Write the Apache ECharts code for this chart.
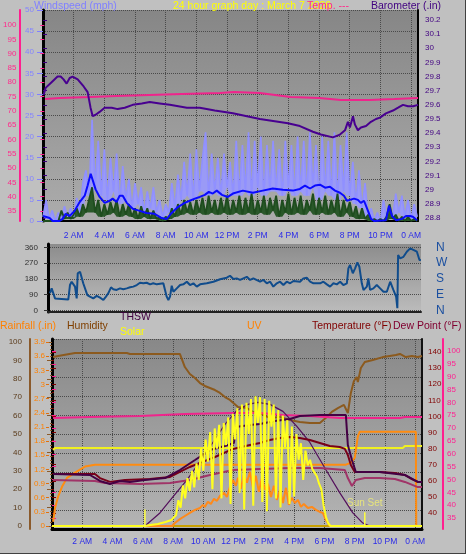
<!DOCTYPE html>
<html><head><meta charset="utf-8">
<script src="https://cdn.jsdelivr.net/npm/echarts@6/dist/echarts.min.js"></script>
<style>html,body{margin:0;padding:0;background:#c0c0c0;}#c{width:466px;height:554px;}</style>
</head><body><div id="c"></div><script>
// ---------- tick labels ----------
const timeLabels = ['', '2 AM', '4 AM', '6 AM', '8 AM', '10 AM', '12 PM', '2 PM', '4 PM', '6 PM', '8 PM', '10 PM', '0 AM'];
const dirLabels = ['N', 'E', 'S', 'W', 'N'];

// ---------- top chart ----------
const barometer = [[0.04,29.67],[0.17,29.72],[0.56,29.76],[0.95,29.80],[1.15,29.80],[1.34,29.78],[1.54,29.75],[1.74,29.79],[1.93,29.80],[2.26,29.78],[2.65,29.73],[2.91,29.69],[3.1,29.58],[3.24,29.52],[3.43,29.53],[3.69,29.55],[4.02,29.58],[4.48,29.58],[4.87,29.57],[5.33,29.58],[5.85,29.60],[6.44,29.61],[6.96,29.62],[7.61,29.61],[8.27,29.60],[9.38,29.58],[10.22,29.58],[11.2,29.56],[12.38,29.54],[14.14,29.50],[15.97,29.47],[16.75,29.45],[17.6,29.41],[18.12,29.39],[18.9,29.37],[19.36,29.39],[19.69,29.42],[19.88,29.48],[20.01,29.44],[20.21,29.52],[20.34,29.46],[20.53,29.42],[20.73,29.44],[21.06,29.45],[21.38,29.48],[21.71,29.50],[21.97,29.51],[22.36,29.54],[22.82,29.56],[23.15,29.58],[23.47,29.60],[23.8,29.59],[24.13,29.59],[24.45,29.60]];
const tempTop = [[0.05,74.1],[1.0,74.5],[3.0,74.8],[4.7,75.2],[9.0,75.9],[11.5,76.2],[12.4,76.6],[14.1,76.2],[16.1,74.8],[18.0,74.5],[19.4,73.8],[21.3,73.8],[22.9,74.1],[24.45,74.5]];
const gustStep = 0.2;
const gust = [1,5,0.5,2.5,0,2,0.5,3.5,1,3,1,5.5,2,9,12,6,24,8,19,6,17,5,15,7,16,4,13,5,10,3,9,4,8,2,7,3,8,2,5,1,4,2,9,3,11,5,14,6,16,5,17,7,15,21,6,16,7,15,6,16,8,14,6,19,6,18,7,21,6,19,8,20,6,18,7,19,7,17,6,19,8,18,6,20,7,19,6,21,8,18,5,20,7,19,6,21,5,18,7,21,6,14,4,12,3,9,1,3,0,2,0,5,1,4,1,6.5,2,6,1,5,0.5,4,1];
const windLow = [0,0,0,0,0,0,2.5,0.5,2,0.5,1.5,3,1,4,2,5,8,2,5,1,4,1.5,4.5,2,5,1,4,1.5,4,1,3,0.5,3.5,1,3,0.5,2.5,0.5,1,0,1,0.5,3,1,4,1.5,5,2,4.5,1.5,5,2,5.5,1.5,6,2,5,1.5,5.5,2,6,1.5,5,2,6,1.5,5.5,2,6.5,1.5,5,2,6,1.5,5.5,2.5,6,1,5,2,6.5,1.5,5.5,2,6,1.5,5,2.5,6.5,1.5,5.5,2,6,1.5,5,2,6.5,1,5,2,4.5,1,3.5,0.5,3,0.5,1.5,0,0.5,0,0.5,0,1,4,0.5,1.5,0,1,0,1,0,0.5,0];
const windAvg = [[0,1.2],[0.43,0.7],[0.63,0],[1.08,0],[1.28,0.5],[1.48,1.7],[1.74,1.2],[2.06,2.4],[2.39,4.5],[2.72,6],[2.91,8.4],[3.11,11.2],[3.24,10.8],[3.43,7.5],[3.69,5.7],[4.02,4.3],[4.35,4.8],[4.54,5.3],[4.8,4.5],[5.0,6],[5.2,6],[5.46,4.3],[5.85,2.9],[6.31,2.4],[6.76,1.9],[7.28,1.7],[7.74,0.7],[8.07,0.5],[8.39,1.9],[8.79,3.3],[9.24,4.3],[9.57,4.8],[9.9,5.3],[10.22,5.7],[10.55,6.2],[10.81,6.9],[11.07,6.5],[11.33,7.2],[11.66,6.2],[12.05,5.7],[12.38,6.5],[13.03,7.2],[13.68,6.7],[14.33,7.2],[14.98,7.7],[15.64,7.4],[16.29,7.2],[16.75,7.6],[17.08,8.4],[17.41,7.7],[17.73,8.4],[18.06,8.6],[18.39,7.9],[18.71,8.1],[19.04,7.2],[19.36,6.7],[19.62,6],[19.82,4.8],[20.0,5.0],[20.28,5.3],[20.53,5.0],[20.72,4.3],[20.93,4.8],[21.19,2.4],[21.39,0.5],[21.58,0],[22.36,0.2],[22.56,3.6],[22.75,1.2],[23.02,0.2],[23.41,0.5],[23.67,1.2],[23.93,1.2],[24.12,1.0],[24.39,0.2]];

// ---------- middle chart ----------
const windDir = [[0.13,98],[0.24,126],[0.35,126],[0.46,69],[0.57,62],[1.33,62],[1.44,145],[1.55,164],[1.77,136],[1.88,69],[1.95,212],[2.1,221],[2.21,221],[2.31,155],[2.43,145],[2.58,88],[2.75,79],[2.97,69],[3.19,83],[3.41,73],[3.63,60],[3.8,79],[3.95,98],[4.13,132],[4.28,121],[4.5,117],[4.72,126],[4.94,121],[5.16,126],[5.38,132],[5.59,136],[5.82,145],[6.03,158],[6.25,155],[6.47,158],[6.69,149],[6.9,155],[7.13,149],[7.56,155],[7.67,149],[7.78,79],[7.89,60],[8.0,79],[8.11,141],[8.22,107],[8.44,126],[8.66,145],[8.87,149],[9.1,164],[9.31,145],[9.53,155],[9.75,136],[9.97,149],[10.41,155],[10.84,164],[11.28,178],[11.72,187],[11.93,198],[12.15,179],[12.37,183],[12.59,174],[12.81,183],[13.03,192],[13.25,174],[13.46,183],[13.9,164],[14.12,174],[14.34,155],[14.56,164],[14.77,136],[15.0,155],[15.21,164],[15.43,145],[15.65,164],[15.87,155],[16.09,168],[16.52,164],[16.74,183],[16.96,187],[17.18,164],[17.4,155],[17.84,155],[18.05,164],[18.28,149],[18.49,136],[18.71,155],[18.93,149],[19.15,164],[19.36,145],[19.59,155],[19.69,240],[19.8,259],[19.98,212],[20.13,240],[20.28,274],[20.41,249],[20.57,155],[20.68,117],[20.9,136],[21.0,183],[21.11,117],[21.33,126],[21.55,145],[21.77,126],[21.99,107],[22.21,107],[22.43,164],[22.54,174],[22.64,117],[22.82,79],[22.9,13],[22.95,316],[23.08,297],[23.3,306],[23.52,335],[23.74,354],[23.95,345],[24.07,354],[24.18,335],[24.35,288],[24.44,288]];

// ---------- bottom chart ----------
const humidity = [[0.07,91.8],[0.4,92.4],[1.52,94],[4.95,94],[5.15,93.5],[8.45,93.5],[8.78,86.4],[9.11,82.6],[9.45,80.4],[9.78,77.7],[10.1,76.1],[10.44,75],[10.77,73.9],[11.1,72.3],[11.43,70.1],[11.76,68.5],[12.29,64.7],[12.88,64.1],[13.28,62],[13.74,61.4],[14.4,58.7],[15.06,59.2],[15.72,57.6],[16.38,56.5],[17.04,56],[17.7,56],[18.16,59.2],[18.49,62],[18.89,64.1],[19.29,65.8],[19.42,66.3],[19.55,61.4],[19.75,72.3],[19.95,78.8],[20.14,81],[20.21,78.3],[20.41,85.9],[20.67,89.1],[21.2,90.2],[21.86,91.8],[22.32,92.4],[22.72,92.9],[22.99,93.5],[23.38,91.8],[23.78,92.4],[24.17,91.8],[24.45,92.4]];
const tempIndoor = [[0.07,73.9],[2.5,74.3],[5.8,74.7],[8.78,75.5],[11.96,75.9],[13.74,75.9],[15.26,75.1],[17.04,74.7],[19.02,73.9],[22.99,73.9],[23.32,74.3],[24.45,74.3]];
const humIndoor = [[0.07,41.3],[0.2,42.4],[23.18,42.4],[23.32,43.5],[24.45,43.5]];
const rain = [[0.07,0.09],[0.2,0.38],[0.4,0.62],[0.66,0.83],[0.99,1.02],[1.52,1.13],[2.18,1.26],[2.84,1.3],[19.42,1.3],[19.75,1.34],[20.01,1.45],[20.21,1.9],[20.34,2.0],[24.04,2.0],[24.07,0],[24.45,0]];
const baseline = [[0,0],[24.45,0]];
const uv = [[0,0],[7.93,0],[8.12,0.26],[8.45,0.6],[8.78,0.87],[9.11,1.14],[9.45,1.4],[9.78,1.57],[9.97,1.84],[10.1,1.66],[10.3,2.1],[10.5,1.92],[10.7,2.36],[10.9,2.19],[11.1,2.62],[11.36,2.88],[11.56,2.53],[11.76,3.41],[11.96,4.0],[12.15,3.5],[12.29,4.2],[12.48,3.23],[12.68,4.54],[12.88,3.76],[13.08,4.72],[13.28,3.32],[13.47,4.37],[13.67,2.97],[13.87,4.2],[14.07,3.15],[14.27,3.67],[14.47,2.53],[14.66,3.5],[14.86,2.27],[15.06,3.15],[15.26,2.0],[15.46,3.32],[15.65,1.84],[15.85,2.45],[16.05,2.0],[16.25,2.27],[16.45,1.66],[16.64,1.92],[16.91,1.57],[17.17,1.66],[17.44,1.4],[17.7,1.22],[17.9,1.14],[18.1,0.52],[18.36,0],[24.45,0]];
const solar = [[0,0],[6.14,0],[6.5,5],[7.0,11],[7.5,22],[7.9,33],[8.2,60],[8.35,140],[8.5,100],[8.65,220],[8.8,150],[8.95,260],[9.1,190],[9.25,300],[9.4,210],[9.55,340],[9.7,250],[9.85,420],[10.0,300],[10.15,470],[10.3,350],[10.45,510],[10.6,200],[10.75,530],[10.9,420],[11.05,550],[11.2,150],[11.35,560],[11.5,440],[11.65,590],[11.8,120],[11.95,610],[12.1,470],[12.25,640],[12.4,180],[12.55,660],[12.7,90],[12.85,670],[13.0,500],[13.15,690],[13.3,110],[13.45,705],[13.6,560],[13.75,700],[13.9,130],[14.05,690],[14.2,80],[14.35,680],[14.5,540],[14.65,660],[14.8,150],[14.95,630],[15.1,100],[15.25,600],[15.4,430],[15.55,575],[15.7,120],[15.85,540],[16.0,160],[16.15,500],[16.3,360],[16.45,450],[16.6,250],[16.75,410],[16.9,330],[17.05,360],[17.2,310],[17.35,290],[17.5,270],[17.65,230],[17.8,200],[17.95,110],[18.1,50],[18.25,15],[18.4,0],[24.45,0]];
const solarMax = [[6.14,0],[7.13,71],[7.99,158],[8.92,251],[9.78,350],[10.63,454],[11.43,552],[12.22,628],[12.95,661],[13.61,672],[14.4,661],[15.26,623],[16.18,541],[17.04,454],[18.1,306],[19.02,180],[19.88,71],[20.54,16],[21.0,0]];
const temperature = [[0.07,64.2],[2.84,64.2],[3.17,61.7],[3.83,59.3],[4.82,60.5],[6.47,61.1],[7.8,62.4],[8.45,65.5],[9.11,68.6],[9.78,71.1],[10.77,74.8],[11.96,79.8],[13.08,82.2],[13.74,83.5],[14.4,85.3],[15.06,86.6],[15.72,87.2],[16.38,86.6],[17.04,85.3],[17.7,83.5],[18.36,81.6],[19.02,81],[19.35,79.8],[19.55,76],[19.75,69.8],[20.01,65.5],[20.67,65.5],[21.66,65.5],[22.66,64.8],[23.32,63.6],[23.78,61.1],[24.17,59.3],[24.45,59.3]];
const dewPoint = [[0.07,60.5],[2.84,59.9],[3.5,58.6],[5.8,58],[7.8,58.6],[9.11,60.5],[10.44,63.6],[11.96,66.7],[13.74,67.3],[15.72,68],[17.7,68],[19.35,66.7],[19.55,61.7],[19.82,56.8],[20.08,60.5],[20.67,61.7],[21.66,61.7],[22.66,61.1],[23.32,59.3],[24.17,56.1],[24.45,56.1]];
const thsw = [[0.07,64.2],[2.51,63.6],[3.17,59.9],[3.83,58],[4.49,59.9],[5.15,59.3],[6.14,60.5],[7.47,61.7],[8.45,66.7],[9.45,72.9],[10.44,79.1],[11.43,81.6],[12.02,83.5],[12.15,93.4],[13.08,94.7],[13.74,95.3],[14.73,97.1],[15.72,98.4],[16.38,100.2],[17.7,100.9],[19.42,100.9],[19.55,82.2],[19.82,72.9],[20.08,65.5],[21.66,65.5],[23.32,63.6],[24.17,59.3],[24.45,59.3]];
const sunRise = [[6.14,0],[6.14,90]];
const sunSet = [[20.67,0],[20.67,75]];

// ---------- build ----------
const FONT = '"Liberation Sans",Arial,sans-serif';
const TF = 8;
const GRIDC = '#4a4a4a';
function grad(a, b) { return new echarts.graphic.LinearGradient(0, 0, 0, 1, [{offset: 0, color: a}, {offset: 1, color: b}]); }
function timeFmt(v) {
  const r = Math.round(v);
  if (Math.abs(v - r) > 0.01 || r % 2) return '';
  return timeLabels[r / 2] || '';
}
const num1 = v => String(+(+v).toFixed(1));
const hid = {show: false};

const grids = [
  {left: 43, width: 375, top: 10, height: 211, show: true, borderWidth: 0, backgroundColor: grad('#868686', '#acacac')},
  {left: 43, width: 375, top: 20, height: 198},
  {left: 43, width: 375, top: 25, height: 186},
  {left: 48, width: 373, top: 244, height: 68, show: true, borderWidth: 0, backgroundColor: grad('#8c8c8c', '#bcbcbc')},
  {left: 48, width: 373, top: 247.3, height: 63.2},
  {left: 52, width: 370, top: 339, height: 190, show: true, borderWidth: 0, backgroundColor: grad('#888888', '#b4b4b4')},
  {left: 52, width: 370, top: 342, height: 184},
  {left: 52, width: 370, top: 352, height: 161},
  {left: 52, width: 370, top: 351, height: 167}
];
const xAxes = grids.map((g, i) => ({
  type: 'value', gridIndex: i, min: 0, max: 24.45, interval: 2,
  axisLine: hid, axisTick: hid, axisLabel: hid, splitLine: hid
}));
const xLabel = {show: true, formatter: timeFmt, color: '#2a2ae8', fontSize: 8.5, fontFamily: FONT, margin: 10};
Object.assign(xAxes[0], {axisLine: {show: true, onZero: false, lineStyle: {color: '#000', width: 2}}, axisLabel: xLabel,
  splitLine: {show: true, lineStyle: {color: GRIDC, type: 'dotted'}}});
Object.assign(xAxes[3], {axisLine: {show: true, onZero: false, lineStyle: {color: '#222', width: 2}}});
Object.assign(xAxes[5], {axisLine: {show: true, onZero: false, lineStyle: {color: '#000', width: 3}}, axisLabel: Object.assign({}, xLabel, {margin: 8}),
  splitLine: {show: true, lineStyle: {color: GRIDC, type: 'dotted'}}});

function lbl(color, extra) { return Object.assign({show: true, color: color, fontSize: TF, fontFamily: FONT}, extra || {}); }
function tick(color, len) { return {show: true, length: len, lineStyle: {color: color}}; }
const yAxes = [
  {type: 'value', gridIndex: 0, min: 0, max: 50, interval: 5, position: 'left',
    axisLine: {show: true, lineStyle: {color: '#000', width: 3}}, axisTick: tick('#8080ff', 6),
    axisLabel: lbl('#8484ff', {margin: 9}), splitLine: {show: true, lineStyle: {color: GRIDC, type: 'dotted'}}},
  {type: 'value', gridIndex: 0, position: 'right', min: 0, max: 50, axisLine: {show: true, lineStyle: {color: '#000', width: 2}}, axisTick: hid, axisLabel: hid, splitLine: hid},
  {type: 'value', gridIndex: 0, position: 'left', offset: 23, min: 0, max: 50, axisLine: {show: true, lineStyle: {color: '#ff1f8f', width: 2}}, axisTick: hid, axisLabel: hid, splitLine: hid},
  {type: 'value', gridIndex: 1, position: 'right', min: 28.8, max: 30.2, interval: 0.1,
    axisLine: hid, axisTick: tick('#400080', 4), axisLabel: lbl('#400080', {margin: 7, formatter: num1}), splitLine: hid},
  {type: 'value', gridIndex: 2, position: 'left', offset: 23, min: 35, max: 100, interval: 5,
    axisLine: hid, axisTick: tick('#ff1f8f', 4), axisLabel: lbl('#ff2a8a', {margin: 5}), splitLine: hid},
  {type: 'value', gridIndex: 3, min: 0, max: 1, axisLine: {show: true, lineStyle: {color: '#000', width: 3}}, axisTick: hid, axisLabel: hid, splitLine: hid},
  {type: 'value', gridIndex: 4, position: 'left', min: 0, max: 360, interval: 90,
    axisLine: hid, axisTick: tick('#333', 4), axisLabel: lbl('#303030', {margin: 10}),
    splitLine: {show: true, lineStyle: {color: GRIDC, type: 'dotted'}}},
  {type: 'value', gridIndex: 4, position: 'right', min: 0, max: 360, interval: 90,
    axisLine: hid, axisTick: hid, axisLabel: lbl('#1a4fa0', {margin: 15, fontSize: 12, formatter: v => dirLabels[Math.round(v / 90)] || ''}), splitLine: hid},
  {type: 'value', gridIndex: 5, min: 0, max: 10, interval: 1, axisLine: {show: true, lineStyle: {color: '#000', width: 3}}, axisTick: hid, axisLabel: hid,
    splitLine: {show: true, lineStyle: {color: GRIDC, type: 'dotted'}}},
  {type: 'value', gridIndex: 5, position: 'right', min: 0, max: 10, axisLine: {show: true, lineStyle: {color: '#111', width: 2}}, axisTick: hid, axisLabel: hid, splitLine: hid},
  {type: 'value', gridIndex: 5, position: 'left', offset: 22, min: 0, max: 10, axisLine: {show: true, lineStyle: {color: '#8b5a2b', width: 2}}, axisTick: hid, axisLabel: hid, splitLine: hid},
  {type: 'value', gridIndex: 5, position: 'right', offset: 21, min: 0, max: 10, axisLine: {show: true, lineStyle: {color: '#ff1f8f', width: 2}}, axisTick: hid, axisLabel: hid, splitLine: hid},
  {type: 'value', gridIndex: 6, position: 'left', offset: 22, min: 0, max: 100, interval: 10,
    axisLine: hid, axisTick: tick('#8b5a2b', 5), minorTick: {show: true, splitNumber: 5, length: 2, lineStyle: {color: '#8b5a2b'}},
    axisLabel: lbl('#5a3a1a', {margin: 8}), splitLine: hid},
  {type: 'value', gridIndex: 6, position: 'left', offset: 3, min: 0, max: 3.9, interval: 0.3,
    axisLine: hid, axisTick: tick('#e07010', 3), axisLabel: lbl('#ff8000', {margin: 4, formatter: num1}), splitLine: hid},
  {type: 'value', gridIndex: 6, min: 0, max: 1000, show: false},
  {type: 'value', gridIndex: 6, min: 0, max: 16, show: false},
  {type: 'value', gridIndex: 7, position: 'right', min: 40, max: 140, interval: 10,
    axisLine: hid, axisTick: tick('#800000', 4), minorTick: {show: true, splitNumber: 2, length: 2, lineStyle: {color: '#800000'}},
    axisLabel: lbl('#800000', {margin: 6}), splitLine: hid},
  {type: 'value', gridIndex: 8, position: 'right', offset: 21, min: 35, max: 100, interval: 5,
    axisLine: hid, axisTick: tick('#ff1f8f', 4), axisLabel: lbl('#ff1f8f', {margin: 4}), splitLine: hid}
];

function line(name, data, xi, yi, color, width, extra) {
  return Object.assign({name: name, type: 'line', data: data, xAxisIndex: xi, yAxisIndex: yi, symbol: 'none', showSymbol: false,
    lineStyle: {color: color, width: width}, itemStyle: {color: color}, silent: true}, extra || {});
}
const stepped = arr => arr.map((v, i) => [+(i * gustStep).toFixed(2), v]);
// filled band between the local low of the samples and the samples themselves (dense spiky look)
function localLow(arr) { return arr.map((v, i) => Math.min(v, arr[Math.max(0, i - 1)], arr[Math.min(arr.length - 1, i + 1)])); }
function band(name, arr, fill) {
  const upper = stepped(arr), lower = stepped(localLow(arr)).reverse();
  return {name: name + 'Band', type: 'custom', coordinateSystem: 'cartesian2d', xAxisIndex: 0, yAxisIndex: 0, silent: true,
    data: [[0, 0]], clip: true,
    renderItem: function (params, api) {
      const pts = upper.concat(lower).map(p => api.coord(p));
      return {type: 'polygon', shape: {points: pts}, style: {fill: fill, stroke: null}};
    }};
}

const series = [
  line('Temp', tempTop, 2, 4, '#f0248c', 2),
  band('Gust', gust, '#9a9af6'),
  line('Gust', stepped(gust), 0, 0, '#9090ff', 1.6),
  line('Barometer', barometer, 1, 3, '#480090', 2),
  band('WindLow', windLow, '#2a582a'),
  line('WindLow', stepped(windLow), 0, 0, '#1e4d1e', 1.8),
  line('Wind', windAvg, 0, 0, '#0a0aff', 2),
  line('Direction', windDir, 4, 6, '#104c8c', 2),
  line('Baseline', baseline, 6, 13, '#c8a000', 2),
  line('Humidity', humidity, 6, 12, '#8c5a1e', 2),
  line('IndoorTemp', tempIndoor, 8, 17, '#f0248c', 2),
  line('IndoorHum', humIndoor, 6, 12, '#f0f020', 2),
  line('Rainfall', rain, 6, 13, '#ff8c10', 2),
  line('SolarMax', solarMax, 6, 14, '#54105c', 1.2),
  line('Temperature', temperature, 7, 16, '#780018', 2),
  line('DewPoint', dewPoint, 7, 16, '#a03468', 2),
  line('THSW', thsw, 7, 16, '#440044', 2),
  line('UV', uv, 6, 15, '#ff8a1a', 2),
  line('Solar', solar, 6, 14, '#ffff20', 2),
  line('SunRise', sunRise, 6, 14, '#ffff40', 1.5),
  line('SunSet', sunSet, 6, 14, '#ffff40', 1.5),
  {type: 'scatter', xAxisIndex: 6, yAxisIndex: 14, symbolSize: 1, itemStyle: {color: 'rgba(0,0,0,0)'}, silent: true,
    data: [sunSet[1]], label: {show: true, formatter: 'Sun Set', position: 'top', distance: 3, color: '#f4f070', fontSize: 10, fontFamily: FONT}}
];

function txt(x, y, s, color, size) {
  return {type: 'text', x: x, y: y, silent: true, z: 100,
    style: {text: s, fill: color, fontSize: size || 10.5, fontFamily: FONT, verticalAlign: 'middle', textVerticalAlign: 'middle'}};
}
const graphic = [
  txt(34, 6, 'Windspeed (mph)', '#8080ff'),
  txt(173, 6, '24 hour graph day : March 7 2026', '#ffff00'),
  txt(307, 6, 'Temp. ---', '#ff2a8a'),
  txt(371, 6, 'Barometer (.in)', '#400080'),
  txt(0, 326, 'Rainfall (.in)', '#ff8000'),
  txt(67, 326, 'Humidity', '#804000'),
  txt(120, 317, 'THSW', '#400040'),
  txt(120, 332, 'Solar', '#ffff00'),
  txt(247, 326, 'UV', '#ff8000'),
  txt(312, 326, 'Temperature (°F)', '#800000'),
  txt(393, 326, 'Dew Point (°F)', '#800030'),
  {type: 'rect', shape: {x: 0, y: 553, width: 466, height: 1}, style: {fill: '#404040'}, silent: true},
  {type: 'rect', shape: {x: 465, y: 0, width: 1, height: 554}, style: {fill: '#404040'}, silent: true}
];

const chart = echarts.init(document.getElementById('c'), null, {renderer: 'canvas'});
chart.setOption({
  animation: false, backgroundColor: '#c0c0c0',
  grid: grids, xAxis: xAxes, yAxis: yAxes, series: series, graphic: graphic
});
</script></body></html>
